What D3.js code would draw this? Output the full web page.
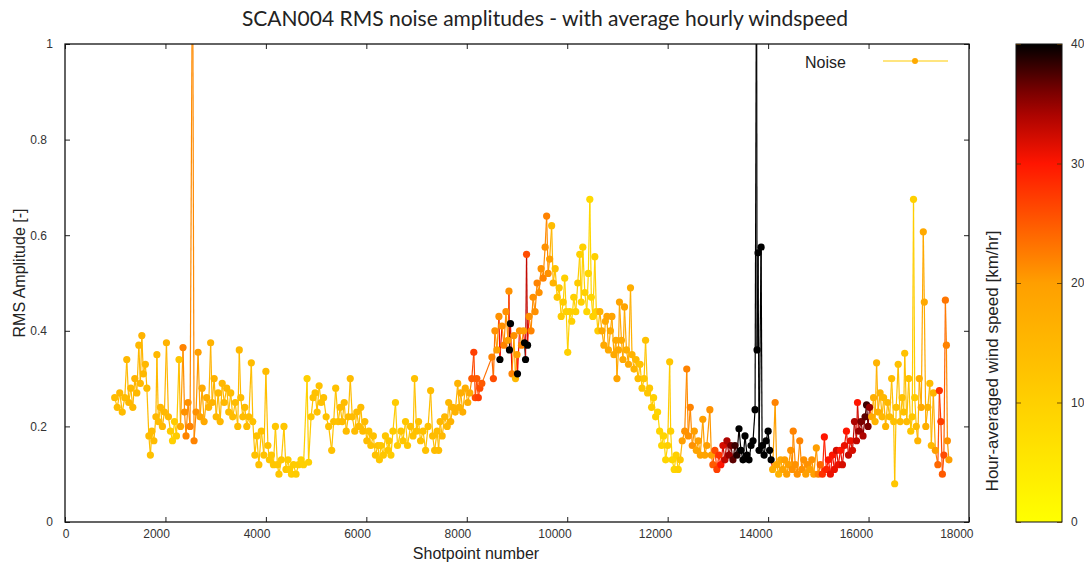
<!DOCTYPE html>
<html><head><meta charset="utf-8">
<script src="https://cdn.jsdelivr.net/npm/d3@7"></script>
<style>body{margin:0;background:#fff}svg{display:block}</style>
</head><body>
<script>
// ---- data ----
const shotpoint = [
990,1040,1090,1140,1190,1230,1270,1310,1350,1390,
1430,1470,1500,1530,1560,1600,1630,1670,1700,1730,
1770,1810,1830,1860,1900,1940,1980,2020,2060,2100,
2140,2180,2220,2270,2300,2350,2380,2410,2450,2490,
2540,2570,2610,2650,2690,2730,2770,2820,2860,2900,
2930,2970,3010,3050,3090,3130,3170,3220,3260,3300,
3340,3390,3440,3470,3500,3540,3580,3620,3660,3710,
3740,3780,3820,3860,3910,3960,4000,4040,4070,4110,
4150,4190,4230,4260,4310,4360,4400,4440,4470,4510,
4550,4600,4650,4700,4750,4820,4850,4900,4940,4980,
5020,5060,5100,5150,5200,5250,5310,5350,5390,5440,
5480,5520,5560,5600,5640,5680,5720,5770,5810,5850,
5890,5930,5970,6010,6050,6090,6140,6180,6230,6260,
6290,6340,6380,6430,6450,6490,6530,6580,6620,6690,
6730,6780,6820,6880,6930,6960,7000,7040,7080,7130,
7180,7230,7280,7320,7360,7410,7440,7470,7510,7560,
7610,7640,7680,7720,7770,7820,7850,7880,7920,7970,
8020,8060,8100,8140,8170,8200,8230,8260,8300,8500,
8530,8560,8600,8640,8660,8700,8740,8780,8820,8840,
8850,8870,8900,8940,8970,9000,9010,9050,9090,9130,
9150,9170,9190,9210,9240,9280,9320,9360,9400,9440,
9480,9520,9560,9590,9620,9650,9690,9720,9760,9800,
9840,9880,9920,9950,9980,10010,10050,10090,10130,10170,
10210,10250,10280,10310,10350,10390,10420,10450,10480,10510,
10550,10580,10610,10650,10690,10730,10760,10790,10820,10860,
10890,10930,10970,10990,11020,11040,11080,11110,11140,11180,
11220,11260,11290,11330,11370,11410,11450,11490,11530,11560,
11600,11640,11680,11720,11760,11800,11840,11880,11920,11960,
12000,12040,12060,12090,12130,12170,12210,12250,12290,12340,
12380,12410,12450,12490,12530,12570,12610,12650,12700,12740,
12780,12840,12870,12900,12940,12980,13020,13060,13100,13140,
13180,13220,13260,13300,13340,13380,13420,13460,13500,13540,
13580,13620,13660,13700,13740,13770,13780,13800,13820,13860,
13880,13920,13960,14000,14030,14060,14090,14140,14170,14210,
14250,14290,14330,14370,14410,14450,14480,14500,14540,14580,
14630,14670,14710,14750,14790,14830,14870,14910,14960,15000,
15040,15080,15120,15160,15200,15240,15280,15320,15360,15400,
15440,15480,15520,15560,15600,15640,15680,15720,15760,15780,
15810,15850,15890,15930,15960,15990,16020,16060,16100,16130,
16160,16190,16230,16270,16300,16340,16380,16420,16460,16500,
16520,16550,16590,16630,16670,16700,16720,16760,16800,16840,
16870,16895,16920,16950,16980,17010,17050,17090,17110,17140,
17180,17220,17250,17290,17330,17380,17410,17440,17470,17500,
17530,17550,17570,17600
];
const rmsAmplitude = [
.26,.24,.27,.23,.26,.34,.25,.28,.24,.30,
.27,.37,.29,.39,.31,.33,.28,.18,.14,.19,
.17,.22,.35,.21,.24,.20,.23,.375,.22,.19,
.17,.21,.18,.34,.20,.365,.23,.18,.25,.20,
1.25,.17,.23,.355,.22,.28,.21,.26,.24,.375,
.25,.30,.22,.27,.21,.29,.25,.28,.23,.27,
.22,.25,.20,.36,.26,.22,.24,.20,.22,.333,
.21,.14,.18,.12,.19,.14,.315,.16,.13,.14,
.12,.20,.12,.10,.13,.20,.11,.13,.11,.10,
.12,.10,.12,.13,.12,.30,.125,.22,.26,.27,
.23,.285,.25,.26,.22,.20,.15,.21,.28,.21,
.24,.21,.25,.19,.22,.30,.22,.19,.23,.20,
.24,.19,.21,.17,.19,.16,.18,.14,.16,.13,
.16,.14,.18,.15,.17,.14,.19,.25,.16,.19,
.17,.21,.16,.20,.18,.30,.19,.21,.17,.19,
.15,.20,.275,.18,.15,.19,.15,.21,.18,.22,
.20,.25,.21,.24,.23,.29,.24,.27,.23,.28,
.25,.27,.30,.355,.26,.30,.26,.28,.29,.345,
.30,.40,.36,.43,.34,.41,.37,.44,.38,.483,
.36,.415,.31,.39,.30,.35,.31,.40,.37,.40,
.375,.34,.56,.37,.43,.40,.47,.44,.50,.48,
.53,.51,.575,.64,.52,.55,.62,.50,.53,.47,
.49,.43,.46,.51,.44,.355,.44,.42,.47,.44,
.50,.56,.46,.575,.48,.44,.52,.675,.47,.43,
.555,.44,.40,.44,.40,.37,.42,.43,.36,.40,
.43,.35,.38,.30,.36,.46,.38,.34,.45,.36,
.33,.49,.35,.32,.34,.30,.33,.28,.30,.38,
.27,.28,.24,.26,.22,.23,.19,.16,.18,.13,
.16,.335,.19,.13,.11,.14,.11,.13,.17,.19,
.32,.18,.24,.16,.19,.15,.17,.14,.215,.14,
.16,.235,.14,.12,.15,.11,.14,.12,.16,.13,
.17,.14,.16,.13,.16,.14,.195,.15,.13,.18,
.14,.13,.16,.17,.235,1.25,.36,.563,.15,.575,
.16,.14,.17,.19,.15,.13,.11,.25,.12,.10,
.13,.11,.13,.10,.12,.15,.11,.19,.12,.10,
.17,.11,.13,.10,.12,.11,.13,.10,.155,.10,
.12,.10,.178,.11,.13,.10,.14,.11,.15,.12,
.15,.12,.16,.19,.14,.17,.15,.21,.17,.25,
.19,.21,.18,.22,.245,.20,.24,.22,.26,.21,
.333,.23,.27,.22,.26,.20,.25,.22,.30,.21,
.08,.24,.33,.21,.26,.23,.353,.21,.30,.19,
.22,.675,.26,.20,.17,.30,.24,.607,.46,.20,
.24,.29,.16,.27,.15,.12,.275,.21,.10,.14,
.464,.37,.17,.13
];
const windSpeed = [
14,14,15,14,14,15,15,15,15,16,
15,15,15,16,15,15,14,14,13,14,
14,15,15,14,15,15,15,16,15,11,
10,11,11,12,18,22,21,22,21,22,
21,22,21,20,19,18,18,17,16,16,
16,16,15,15,15,15,15,15,14,14,
14,14,14,15,14,14,14,14,14,14,
13,13,13,13,13,13,14,13,12,12,
12,12,12,12,12,12,12,11,11,11,
11,11,11,10,10,10,10,12,13,13,
13,13,13,13,13,13,13,13,13,13,
14,14,14,14,14,14,14,14,14,14,
14,14,14,14,13,13,13,13,13,12,
12,12,12,12,12,11,11,11,11,12,
12,12,12,13,13,13,13,13,13,13,
13,13,14,14,14,14,14,15,15,15,
15,15,16,16,16,16,16,17,17,17,
17,18,25,27,26,25,27,26,25,22,
26,21,20,21,40,21,22,21,20,21,
40,40,22,21,15,20,40,21,22,20,
40,40,26,40,21,22,21,21,22,21,
21,22,21,22,21,20,14,16,13,12,
12,11,11,10,10,10,10,10,10,10,
11,10,10,10,10,9,9,8,9,10,
10,10,11,16,18,18,18,19,18,18,
19,18,18,19,18,19,18,18,19,17,
18,17,16,16,15,14,13,12,12,13,
12,12,11,10,10,9,9,9,9,9,
10,12,10,9,9,10,10,12,20,21,
22,21,22,21,20,19,20,19,20,19,
20,21,20,25,26,27,28,30,32,33,
34,35,36,37,38,39,40,40,40,40,
40,40,40,40,40,40,40,40,40,40,
40,40,40,40,40,40,17,22,18,16,
18,19,20,20,20,21,21,22,21,21,
22,21,21,20,21,20,21,20,20,22,
24,28,30,29,30,31,30,31,32,31,
30,32,31,30,33,31,32,34,33,30,
35,36,34,37,38,36,35,18,17,16,
16,17,16,15,15,16,15,14,14,13,
12,13,13,14,13,13,13,14,13,12,
12,10,11,14,16,17,18,18,18,17,
16,14,15,16,20,24,28,27,25,26,
23,22,21,20
];
const xTicks = [0,2000,4000,6000,8000,10000,12000,14000,16000,18000];
const yTicks = [0,0.2,0.4,0.6,0.8,1];
const cbTicks = [0,10,20,30,40];
const windStops = [0,10,20,30,35,40];
const windColours = ["#ffff00","#ffd000","#ff9f00","#ff1500","#990000","#000000"];

// ---- drawing ----
const W = 1084, H = 567;
const L = 65, R = 969, T = 44, B = 522;
const svg = d3.select("body").append("svg").attr("width", W).attr("height", H)
  .style("font-family", "'Liberation Sans', Arial, sans-serif");

const x = d3.scaleLinear().domain([0, 18000]).range([L, R]);
const y = d3.scaleLinear().domain([0, 1]).range([B, T]);
const color = d3.scaleLinear().domain(windStops).range(windColours).clamp(true);

const pts = shotpoint.map((s, i) => ({ s, a: rmsAmplitude[i], w: windSpeed[i] }));

svg.append("clipPath").attr("id", "plotclip").append("rect")
  .attr("x", L).attr("y", T).attr("width", R - L).attr("height", B - T);

const g = svg.append("g").attr("clip-path", "url(#plotclip)");
g.selectAll("line.seg").data(d3.pairs(pts)).join("line").attr("class", "seg")
  .attr("x1", d => x(d[0].s)).attr("y1", d => y(d[0].a))
  .attr("x2", d => x(d[1].s)).attr("y2", d => y(d[1].a))
  .attr("stroke", d => color((d[0].w + d[1].w) / 2))
  .attr("stroke-width", 1.2);
g.selectAll("circle.pt").data(pts).join("circle").attr("class", "pt")
  .attr("cx", d => x(d.s)).attr("cy", d => y(d.a)).attr("r", 3.6)
  .attr("fill", d => color(d.w));

// axes
const fmtY = d3.format("~g");
const xAxis = svg.append("g").attr("transform", `translate(0,${B})`)
  .call(d3.axisBottom(x).tickValues(xTicks).tickSize(-5).tickPadding(7).tickFormat(d3.format("d")));
xAxis.select(".domain").remove();
xAxis.selectAll("line").attr("stroke", "#222");
xAxis.selectAll("text").attr("text-anchor", "end").attr("x", 4)
  .style("font-size", "12px").attr("fill", "#333");

const xTop = svg.append("g").attr("transform", `translate(0,${T})`)
  .call(d3.axisTop(x).tickValues(xTicks).tickSize(-5).tickFormat(""));
xTop.select(".domain").remove();
xTop.selectAll("line").attr("stroke", "#222");

const yAxis = svg.append("g").attr("transform", `translate(${L},0)`)
  .call(d3.axisLeft(y).tickValues(yTicks).tickSize(-5).tickPadding(12).tickFormat(fmtY));
yAxis.select(".domain").remove();
yAxis.selectAll("line").attr("stroke", "#222");
yAxis.selectAll("text").attr("x", d => (fmtY(d).includes(".") ? -18 : -12))
  .style("font-size", "12px").attr("fill", "#333");

const yRight = svg.append("g").attr("transform", `translate(${R},0)`)
  .call(d3.axisRight(y).tickValues(yTicks).tickSize(-5).tickFormat(""));
yRight.select(".domain").remove();
yRight.selectAll("line").attr("stroke", "#222");

svg.append("rect").attr("x", L).attr("y", T).attr("width", R - L).attr("height", B - T)
  .attr("fill", "none").attr("stroke", "#111").attr("stroke-width", 1.3);

// titles
svg.append("text").attr("x", 545).attr("y", 26).attr("text-anchor", "middle")
  .style("font-family", "Lato, 'Open Sans', sans-serif").style("font-size", "21px").attr("fill", "#222")
  .text("SCAN004 RMS noise amplitudes - with average hourly windspeed");
svg.append("text").attr("x", 476).attr("y", 559).attr("text-anchor", "middle")
  .style("font-size", "16px").attr("fill", "#222").text("Shotpoint number");
svg.append("text").attr("transform", "translate(25,273) rotate(-90)").attr("text-anchor", "middle")
  .style("font-size", "16px").attr("fill", "#222").text("RMS Amplitude [-]");

// legend
svg.append("text").attr("x", 805).attr("y", 68).style("font-size", "16px").attr("fill", "#222").text("Noise");
svg.append("line").attr("x1", 883).attr("x2", 948).attr("y1", 61).attr("y2", 61)
  .attr("stroke", color(11)).attr("stroke-width", 1.2);
svg.append("circle").attr("cx", 915).attr("cy", 61).attr("r", 3).attr("fill", color(18));

// colour bar
const cbX = 1016, cbW = 46;
const cb = d3.scaleLinear().domain([0, 40]).range([B, T]);
const grad = svg.append("defs").append("linearGradient").attr("id", "cbgrad")
  .attr("x1", 0).attr("y1", 1).attr("x2", 0).attr("y2", 0);
grad.selectAll("stop").data(d3.range(0, 41, 2)).join("stop")
  .attr("offset", d => d / 40).attr("stop-color", d => color(d));
svg.append("rect").attr("x", cbX).attr("y", T).attr("width", cbW).attr("height", B - T)
  .attr("fill", "url(#cbgrad)").attr("stroke", "#111").attr("stroke-width", 1);
const cbAxis = svg.append("g").attr("transform", `translate(${cbX + cbW},0)`)
  .call(d3.axisRight(cb).tickValues(cbTicks).tickSize(-5).tickPadding(9));
cbAxis.select(".domain").remove();
cbAxis.selectAll("line").attr("stroke", "#553300").attr("stroke-opacity", 0.8);
cbAxis.selectAll("text").style("font-size", "12px").attr("fill", "#333");
const cbLeft = svg.append("g").attr("transform", `translate(${cbX},0)`)
  .call(d3.axisLeft(cb).tickValues(cbTicks).tickSize(-5).tickFormat(""));
cbLeft.select(".domain").remove();
cbLeft.selectAll("line").attr("stroke", "#553300").attr("stroke-opacity", 0.8);
svg.append("text").attr("transform", "translate(998,361) rotate(-90)").attr("text-anchor", "middle")
  .style("font-size", "17px").attr("fill", "#222").text("Hour-averaged wind speed [km/hr]");
</script>
</body></html>
